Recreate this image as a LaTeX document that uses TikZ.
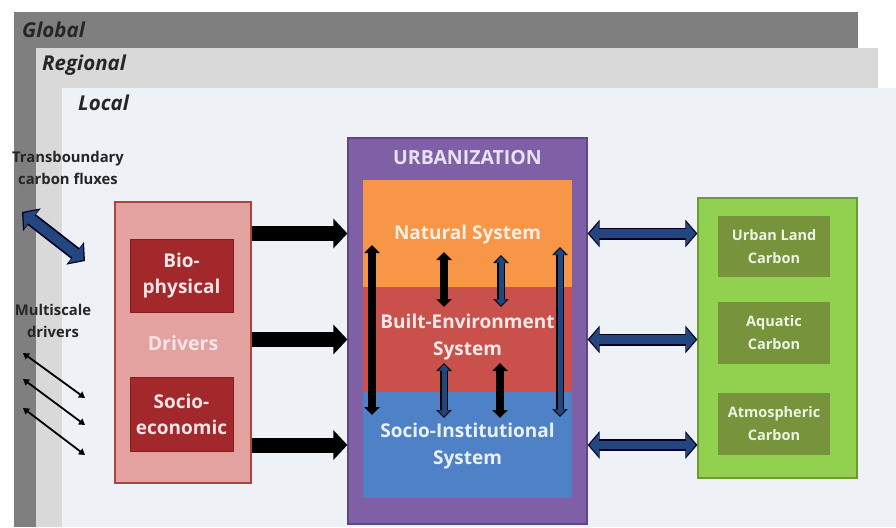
\documentclass[tikz,border=0pt]{standalone}
\usepackage{fontspec}
\setmainfont{Open Sans}
\usetikzlibrary{arrows.meta}

\definecolor{globalgray}{HTML}{7F7F7F}
\definecolor{regiongray}{HTML}{D9D9D9}
\definecolor{localbg}{HTML}{EEF2F6}
\definecolor{drvfill}{HTML}{E3A1A0}
\definecolor{drvedge}{HTML}{A94442}
\definecolor{drvinner}{HTML}{A3282B}
\definecolor{drvtext}{HTML}{F8E4E4}
\definecolor{urbfill}{HTML}{7F5FA6}
\definecolor{urbedge}{HTML}{5E4584}
\definecolor{urbtext}{HTML}{E8E2F0}
\definecolor{natfill}{HTML}{F79646}
\definecolor{bltfill}{HTML}{C9504B}
\definecolor{socfill}{HTML}{4F81C7}
\definecolor{grnfill}{HTML}{92D050}
\definecolor{grnedge}{HTML}{6E9A36}
\definecolor{grninner}{HTML}{77933C}
\definecolor{grntext}{HTML}{EEF4E2}
\definecolor{flowblue}{HTML}{24467F}
\definecolor{darktext}{HTML}{262626}

\tikzset{
  scalelabel/.style={anchor=west, font=\bfseries\itshape\fontsize{20.5}{22}\selectfont, text=darktext, inner sep=0pt},
  sidelabel/.style={align=center, font=\bfseries\fontsize{14.8}{21.5}\selectfont, text=darktext, inner sep=0pt},
  layerbox/.style={minimum width=209pt, inner sep=0pt, align=center,
    font=\bfseries\fontsize{19}{27}\selectfont},
  carbonbox/.style={fill=grninner, minimum width=112pt, minimum height=62pt, inner sep=0pt,
    align=center, text=grntext, font=\bfseries\fontsize{14.5}{23}\selectfont},
  drvbox/.style={fill=drvinner, draw=drvinner!80!black, line width=0.6pt, minimum width=103pt,
    minimum height=73pt, inner sep=0pt, align=center, text=drvtext,
    font=\bfseries\fontsize{19}{26}\selectfont},
  blkarrow/.style={draw=black, line width=15pt, -{Triangle[length=14pt,width=29pt]}},
  sidearrow/.style={draw=flowblue, line width=8.5pt,
    {Triangle[length=9.5pt,width=22pt]}-{Triangle[length=9.5pt,width=22pt]},
    shorten >=1.8pt, shorten <=1.8pt,
    preaction={draw=black!85!blue, line width=12pt,
      {Triangle[length=12pt,width=27pt]}-{Triangle[length=12pt,width=27pt]},
      shorten >=0pt, shorten <=0pt}},
  transarrow/.style={draw=flowblue, line width=10pt,
    {Triangle[length=10pt,width=23pt]}-{Triangle[length=10pt,width=23pt]},
    shorten >=1.8pt, shorten <=1.8pt,
    preaction={draw=black!85!blue, line width=13.5pt,
      {Triangle[length=12.5pt,width=28pt]}-{Triangle[length=12.5pt,width=28pt]},
      shorten >=0pt, shorten <=0pt}},
  vblk/.style={draw=black, line width=8pt,
    {Triangle[length=8pt,width=15pt]}-{Triangle[length=8pt,width=15pt]}},
  vblue/.style={draw=flowblue, line width=5pt,
    {Triangle[length=6pt,width=11pt]}-{Triangle[length=6pt,width=11pt]},
    shorten >=1.6pt, shorten <=1.6pt,
    preaction={draw=black, line width=8pt,
      {Triangle[length=8pt,width=15pt]}-{Triangle[length=8pt,width=15pt]},
      shorten >=0pt, shorten <=0pt}},
  thinarrow/.style={draw=black, line width=1.8pt,
    {Triangle[length=6pt,width=7pt]}-{Triangle[length=6pt,width=7pt]}},
}

\begin{document}
\begin{tikzpicture}[x=1pt,y=-1pt]
\useasboundingbox (0,0) rectangle (896,527);
\fill[white] (0,0) rectangle (896,527);

% nested scale frames
\fill[globalgray] (14,12) rectangle (858,527);
\fill[regiongray] (36,48) rectangle (878,527);
\fill[localbg] (62,88) rectangle (896,527);
\node[scalelabel] (global) at (22,30) {Global};
\node[scalelabel] (regional) at (42,65) {Regional};
\node[scalelabel] (local) at (78,103) {Local};

% outer-boundary labels
\node[sidelabel] (transb) at (68,168) {Transboundary\\carbon fluxes};
\node[sidelabel] (multi) at (53,321) {Multiscale\\drivers};

% drivers
\node[fill=drvfill, draw=drvedge, line width=1.2pt, minimum width=136pt, minimum height=281pt,
  inner sep=0pt] (drivers) at (183,342.5) {};
\node[text=drvtext, font=\bfseries\fontsize{19.5}{22}\selectfont] (drvlabel) at (183,343) {Drivers};
\node[drvbox] (bio) at (181.5,275.5) {Bio-\\physical};
\node[drvbox, minimum height=74pt] (socioeco) at (181.5,414) {Socio-\\economic};

% urbanization
\node[fill=urbfill, draw=urbedge, line width=1.2pt, minimum width=239pt, minimum height=386pt,
  inner sep=0pt] (urban) at (467.5,331) {};
\node[text=urbtext, font=\bfseries\fontsize{19.5}{22}\selectfont] (urbtitle) at (467.5,158) {URBANIZATION};
\node[layerbox, fill=natfill, minimum height=107pt] (nat) at (467.5,233.5) {};
\node[layerbox, fill=bltfill, minimum height=105pt] (blt) at (467.5,339.5) {};
\node[layerbox, fill=socfill, minimum height=106pt] (soc) at (467.5,445) {};
\node[layerbox, text=natfill!15!white] (natlabel) at (467.5,235) {Natural System};
\node[layerbox, text=bltfill!12!white] (bltlabel) at (467.5,337) {Built-Environment\\System};
\node[layerbox, text=socfill!12!white] (soclabel) at (467.5,446) {Socio-Institutional\\System};

% carbon pools
\node[fill=grnfill, draw=grnedge, line width=1.2pt, minimum width=159pt, minimum height=280pt,
  inner sep=0pt] (carbon) at (777.5,338) {};
\node[carbonbox, minimum height=61pt] (land) at (774,246.5) {Urban Land\\Carbon};
\node[carbonbox] (aquatic) at (774,333) {Aquatic\\Carbon};
\node[carbonbox] (atmos) at (774,424) {Atmospheric\\Carbon};

% drivers -> urbanization
\draw[blkarrow] (drivers.east |- nat) -- (urban.west |- nat);
\draw[blkarrow] (drivers.east |- blt) -- (urban.west |- blt);
\draw[blkarrow] (drivers.east |- soc) -- (urban.west |- soc);

% urbanization <-> carbon pools
\draw[sidearrow] (urban.east |- nat) -- (carbon.west |- nat);
\draw[sidearrow] (urban.east |- blt) -- (carbon.west |- blt);
\draw[sidearrow] (urban.east |- soc) -- (carbon.west |- soc);

% interactions between the urban subsystems
\coordinate (v1a) at (372,245); \coordinate (v1b) at (372,415);
\coordinate (v2a) at (444,252); \coordinate (v2b) at (444,307);
\coordinate (v3a) at (501,255); \coordinate (v3b) at (501,307);
\coordinate (v4a) at (560,247); \coordinate (v4b) at (560,417);
\coordinate (v5a) at (444,363); \coordinate (v5b) at (444,418);
\coordinate (v6a) at (500,363); \coordinate (v6b) at (500,418);
\draw[vblk] (v1a) -- (v1b);
\draw[vblk] (v2a) -- (v2b);
\draw[vblue] (v3a) -- (v3b);
\draw[vblue] (v4a) -- (v4b);
\draw[vblue] (v5a) -- (v5b);
\draw[vblk] (v6a) -- (v6b);

% cross-boundary exchanges
\coordinate (ta) at (22,212); \coordinate (tb) at (85,261);
\draw[transarrow] (ta) -- (tb);
\coordinate (m1a) at (23,353); \coordinate (m1b) at (85,398);
\coordinate (m2a) at (23,379); \coordinate (m2b) at (85,425);
\coordinate (m3a) at (23,408); \coordinate (m3b) at (85,455);
\draw[thinarrow] (m1a) -- (m1b);
\draw[thinarrow] (m2a) -- (m2b);
\draw[thinarrow] (m3a) -- (m3b);
\end{tikzpicture}
\end{document}
